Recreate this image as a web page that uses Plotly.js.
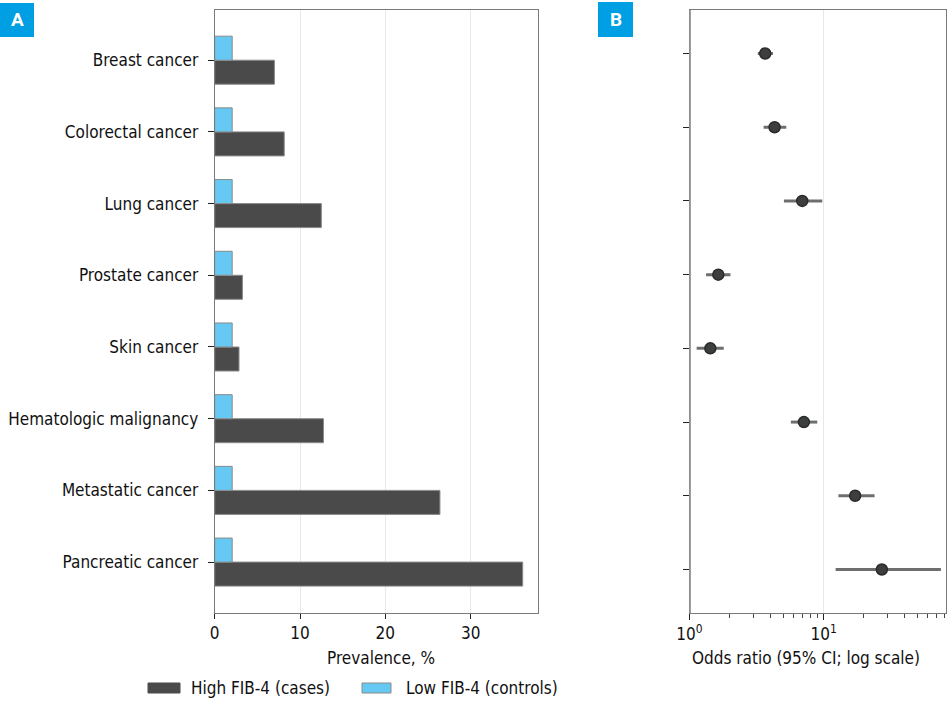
<!DOCTYPE html>
<html>
<head>
<meta charset="utf-8">
<script src="https://cdn.plot.ly/plotly-3.0.1.min.js"></script>
<style>
  html, body { margin: 0; padding: 0; background: #fff; }
  #chart { width: 947px; height: 708px; }
</style>
</head>
<body>
<div id="chart"></div>
<script>
// ---- Data ----
const categories = ['Breast cancer', 'Colorectal cancer', 'Lung cancer', 'Prostate cancer',
  'Skin cancer', 'Hematologic malignancy', 'Metastatic cancer', 'Pancreatic cancer'];
const highFib4Prevalence = [7.0, 8.15, 12.5, 3.25, 2.85, 12.75, 26.4, 36.1];
const lowFib4Prevalence = [2.05, 2.05, 2.05, 2.05, 2.05, 2.05, 2.05, 2.05];
const oddsRatio = [3.67, 4.31, 6.93, 1.64, 1.43, 7.13, 17.2, 27.2];
const ciLow = [3.23, 3.57, 5.06, 1.33, 1.13, 5.70, 12.9, 12.3];
const ciHigh = [4.19, 5.27, 9.78, 2.02, 1.80, 8.97, 24.0, 75.0];
const seriesNames = ['High FIB-4 (cases)', 'Low FIB-4 (controls)'];
const axisTitles = ['Prevalence, %', 'Odds ratio (95% CI; log scale)'];
const prevalenceTicks = [0, 10, 20, 30];
const orTickVals = [1, 10];
const orTickText = ['10<sup>0</sup>', '10<sup>1</sup>'];
const orMinorTicks = [2, 3, 4, 5, 6, 7, 8, 9, 20, 30, 40, 50, 60, 70, 80];

// ---- Style ----
const FONT = '"DejaVu Sans Condensed", "Liberation Sans Narrow", Roboto, sans-serif';
const DARK = '#4a4a4a';
const BLUE = '#66c9f3';
const OUTLINE = '#8a8a8a';
const FRAME = '#7a7a7a';
const W = 947, H = 708;
const px = v => v / W;
const py = v => 1 - v / H;

const catOrder = categories.slice().reverse();

const traces = [
  {
    type: 'bar', orientation: 'h', name: seriesNames[0],
    x: highFib4Prevalence, y: categories,
    marker: { color: DARK, line: { color: OUTLINE, width: 1 } },
    xaxis: 'x', yaxis: 'y', showlegend: false, hoverinfo: 'x+y'
  },
  {
    type: 'bar', orientation: 'h', name: seriesNames[1],
    x: lowFib4Prevalence, y: categories,
    marker: { color: BLUE, line: { color: OUTLINE, width: 1 } },
    xaxis: 'x', yaxis: 'y', showlegend: false, hoverinfo: 'x+y'
  },
  {
    type: 'scatter', mode: 'markers', name: 'Odds ratio',
    x: oddsRatio, y: categories,
    error_x: {
      type: 'data', symmetric: false,
      array: oddsRatio.map((v, i) => ciHigh[i] - v),
      arrayminus: oddsRatio.map((v, i) => v - ciLow[i]),
      color: '#6e6e6e', thickness: 3, width: 0
    },
    marker: { color: '#3d3f3f', size: 11, line: { color: '#2a2a2a', width: 1.5 } },
    xaxis: 'x2', yaxis: 'y2', showlegend: false
  }
];

const axisFont = { family: FONT, size: 17, color: '#111' };

const layout = {
  width: W, height: H,
  margin: { l: 0, r: 0, t: 0, b: 0 },
  paper_bgcolor: '#fff', plot_bgcolor: '#fff',
  font: { family: FONT, size: 17, color: '#111' },
  barmode: 'group', bargap: 0.33, bargroupgap: 0,
  showlegend: false,
  xaxis: {
    domain: [px(214.7), px(538.3)],
    range: [0, 37.93],
    tickmode: 'array', tickvals: prevalenceTicks,
    ticks: 'outside', ticklen: 5, tickcolor: '#222', tickwidth: 1,
    showgrid: true, gridcolor: '#e8e8e8', gridwidth: 1,
    zeroline: false,
    showline: true, linecolor: FRAME, linewidth: 1, mirror: true,
    tickfont: axisFont,
    anchor: 'y', fixedrange: true
  },
  yaxis: {
    domain: [py(613), py(10)],
    type: 'category', categoryorder: 'array', categoryarray: catOrder,
    range: [-0.71, 7.70],
    ticks: 'outside', ticklen: 6, tickcolor: '#222', tickwidth: 1,
    showgrid: false, zeroline: false,
    showline: true, linecolor: FRAME, linewidth: 1, mirror: true,
    tickfont: axisFont, ticklabelstandoff: 6,
    anchor: 'x', fixedrange: true
  },
  xaxis2: {
    domain: [px(689.5), px(946)],
    type: 'log', range: [0, 1.913],
    tickmode: 'array', tickvals: orTickVals, ticktext: orTickText,
    ticks: 'outside', ticklen: 6, tickcolor: '#222', tickwidth: 1,
    minor: { tickmode: 'array', tickvals: orMinorTicks, ticks: 'outside', ticklen: 4, tickcolor: '#444', showgrid: false },
    showgrid: true, gridcolor: '#e8e8e8', gridwidth: 1,
    zeroline: false,
    showline: true, linecolor: FRAME, linewidth: 1, mirror: true,
    tickfont: axisFont,
    anchor: 'y2', fixedrange: true
  },
  yaxis2: {
    domain: [py(613), py(10)],
    type: 'category', categoryorder: 'array', categoryarray: catOrder,
    range: [-0.59, 7.59],
    ticks: 'outside', ticklen: 6, tickcolor: '#222', tickwidth: 1,
    showticklabels: false,
    showgrid: false, zeroline: false,
    showline: true, linecolor: FRAME, linewidth: 1, mirror: true,
    anchor: 'x2', fixedrange: true
  },
  shapes: [
    // reference line at OR = 1
    { type: 'line', xref: 'x2', yref: 'paper', x0: 1, x1: 1, y0: py(613), y1: py(10),
      line: { color: '#a0a0a0', width: 3 } },
    // panel label boxes
    { type: 'rect', xref: 'paper', yref: 'paper', x0: px(0), x1: px(34), y0: py(37), y1: py(3),
      fillcolor: '#009fe3', line: { width: 0 } },
    { type: 'rect', xref: 'paper', yref: 'paper', x0: px(598), x1: px(633), y0: py(37), y1: py(2),
      fillcolor: '#009fe3', line: { width: 0 } },
    // legend swatches
    { type: 'rect', xref: 'paper', yref: 'paper', x0: px(148), x1: px(180), y0: py(693), y1: py(683),
      fillcolor: DARK, line: { color: DARK, width: 1 } },
    { type: 'rect', xref: 'paper', yref: 'paper', x0: px(362), x1: px(391), y0: py(693), y1: py(683),
      fillcolor: BLUE, line: { color: OUTLINE, width: 1 } }
  ],
  annotations: [
    { xref: 'paper', yref: 'paper', x: px(17), y: py(20), text: '<b>A</b>', showarrow: false,
      font: { family: 'Roboto, "DejaVu Sans", sans-serif', size: 19, color: '#fff' }, xanchor: 'center', yanchor: 'middle' },
    { xref: 'paper', yref: 'paper', x: px(615.5), y: py(20), text: '<b>B</b>', showarrow: false,
      font: { family: 'Roboto, "DejaVu Sans", sans-serif', size: 19, color: '#fff' }, xanchor: 'center', yanchor: 'middle' },
    { xref: 'paper', yref: 'paper', x: px(381), y: py(658), text: axisTitles[0], showarrow: false,
      font: axisFont, xanchor: 'center', yanchor: 'middle' },
    { xref: 'paper', yref: 'paper', x: px(806), y: py(658), text: axisTitles[1], showarrow: false,
      font: axisFont, xanchor: 'center', yanchor: 'middle' },
    { xref: 'paper', yref: 'paper', x: px(189), y: py(688), text: seriesNames[0], showarrow: false,
      font: axisFont, xanchor: 'left', yanchor: 'middle' },
    { xref: 'paper', yref: 'paper', x: px(404), y: py(688), text: seriesNames[1], showarrow: false,
      font: axisFont, xanchor: 'left', yanchor: 'middle' }
  ]
};

Plotly.newPlot('chart', traces, layout, { displayModeBar: false, staticPlot: true });
</script>
</body>
</html>
